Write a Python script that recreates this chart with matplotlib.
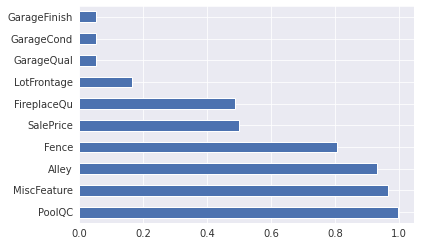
import matplotlib
matplotlib.use("Agg")
import matplotlib.pyplot as plt
import seaborn as sns

sns.set_style("darkgrid")
plt.rcParams['font.family'] = ['DejaVu Sans']

categories = ["PoolQC", "MiscFeature", "Alley", "Fence", "SalePrice",
              "FireplaceQu", "LotFrontage", "GarageQual", "GarageCond", "GarageFinish"]
values = [0.9966, 0.9640, 0.9322, 0.8044, 0.4998,
          0.4865, 0.1665, 0.0545, 0.0545, 0.0545]

fig = plt.figure(figsize=(421/72, 248/72), dpi=72)
ax = fig.add_axes([79/421, 1-223/248, (414-79)/421, (223-6)/248])
ax.barh(range(len(categories)), values, height=0.5, color="#4C72B0")
ax.set_yticks(range(len(categories)))
ax.set_yticklabels(categories)
ax.set_ylim(-0.5, len(categories)-0.5)
ax.set_xlim(0, max(values)*1.05)
ax.set_xticks([0.0, 0.2, 0.4, 0.6, 0.8, 1.0])
ax.tick_params(labelsize=10, colors="#333333", length=0, pad=6)
fig.savefig("out.png", dpi=72)
